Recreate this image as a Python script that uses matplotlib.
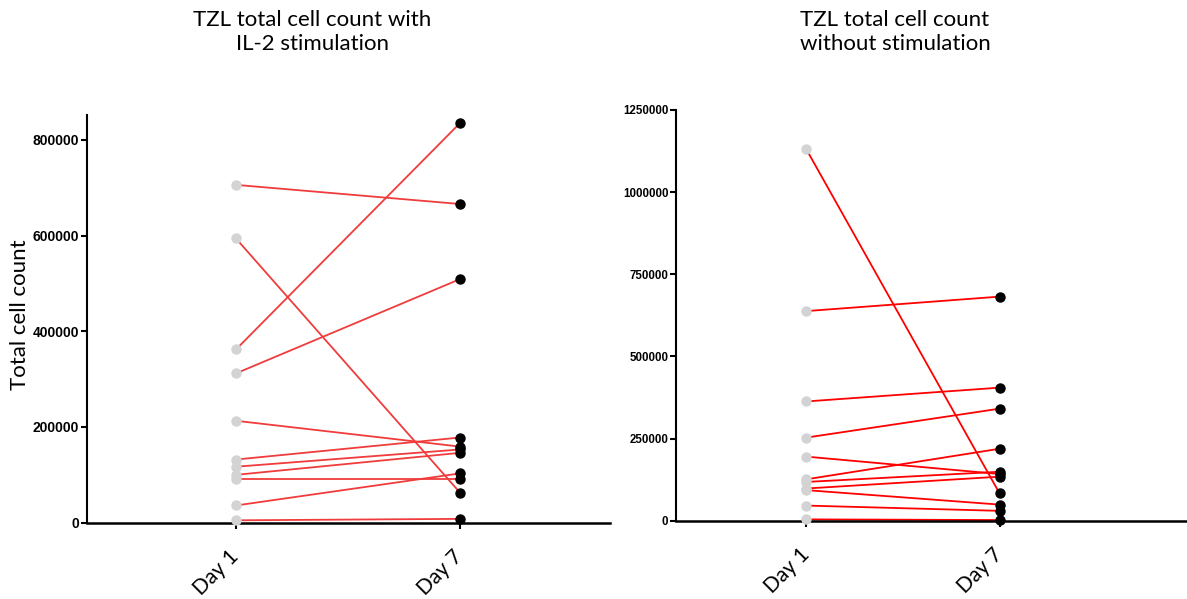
import numpy as np
import matplotlib.pyplot as plt
import matplotlib.transforms as mtrans
from matplotlib.ticker import FuncFormatter

# data
days = ['Day 1', 'Day 7']

il2_day1 = [706000, 594000, 362000, 312000, 213000, 132000, 117000, 100000, 91000, 36000, 5000]
il2_day7 = [666000, 63000, 835000, 509000, 159000, 178000, 153000, 146000, 91000, 103000, 8000]

nostim_day1 = [1130000, 638000, 363000, 253000, 195000, 126000, 118000, 98000, 93000, 46000, 4000]
nostim_day7 = [83000, 682000, 405000, 341000, 142000, 219000, 149000, 134000, 49000, 30000, 2000]

plt.rcParams['font.family'] = ['Lato', 'DejaVu Sans']

fig = plt.figure(figsize=(11.87, 5.99), dpi=100)
ax1 = fig.add_axes([87/1187, 1-522.7/599, (610-87)/1187, (522.7-115)/599])
ax2 = fig.add_axes([676/1187, 1-520.7/599, (1187-676)/1187, (520.7-110)/599])

plain = FuncFormatter(lambda v, p: '%d' % v)
shift = mtrans.ScaledTranslation(6/72, 0, fig.dpi_scale_trans)


def draw(ax, d1, d7, lc):
    x = np.arange(len(days))
    for a, b in zip(d1, d7):
        ax.plot(x, [a, b], color=lc, lw=1.3, zorder=2, clip_on=False)
    ax.plot(np.zeros(len(d1)), d1, 'o', color='#d3d3d3', ms=6.5, zorder=3, clip_on=False)
    ax.plot(np.ones(len(d7)), d7, 'o', color='black', ms=6.5, zorder=3, clip_on=False)
    ax.spines['top'].set_visible(False)
    ax.spines['right'].set_visible(False)
    ax.spines['left'].set_linewidth(1.5)
    ax.spines['bottom'].set_linewidth(1.8)
    ax.set_xticks(x)
    ax.set_xticklabels(days, rotation=45, ha='right', va='center',
                       rotation_mode='anchor', fontsize=15)
    for lab in ax.get_xticklabels():
        lab.set_transform(lab.get_transform() + shift)
    ax.tick_params(axis='x', length=4, width=1.5, pad=18)
    ax.tick_params(axis='y', length=4.5, width=1.5, pad=1)
    ax.yaxis.set_major_formatter(plain)


draw(ax1, il2_day1, il2_day7, '#f03c3c')
ax1.set_xlim(-0.665, 1.67)
ax1.set_ylim(0, 852000)
ax1.set_yticks([0, 200000, 400000, 600000, 800000])
for lab in ax1.get_yticklabels():
    lab.set_family('Liberation Sans')
    lab.set_fontweight('bold')
    lab.set_fontsize(10)

draw(ax2, nostim_day1, nostim_day7, '#ff0000')
ax2.set_xlim(-0.675, 1.97)
ax2.set_ylim(0, 1250000)
ax2.set_yticks([0, 250000, 500000, 750000, 1000000, 1250000])
for lab in ax2.get_yticklabels():
    lab.set_family('Liberation Sans')
    lab.set_fontweight('bold')
    lab.set_fontsize(8.3)

fig.text(312/1187, 1-32/599, 'TZL total cell count with\nIL-2 stimulation',
         ha='center', va='center', fontsize=16, linespacing=1.3)
fig.text(895/1187, 1-32/599, 'TZL total cell count\nwithout stimulation',
         ha='center', va='center', fontsize=16, linespacing=1.3)
fig.text(20/1187, 1-315/599, 'Total cell count', rotation=90,
         ha='center', va='center', fontsize=16)

fig.savefig('out.png', dpi=100)
